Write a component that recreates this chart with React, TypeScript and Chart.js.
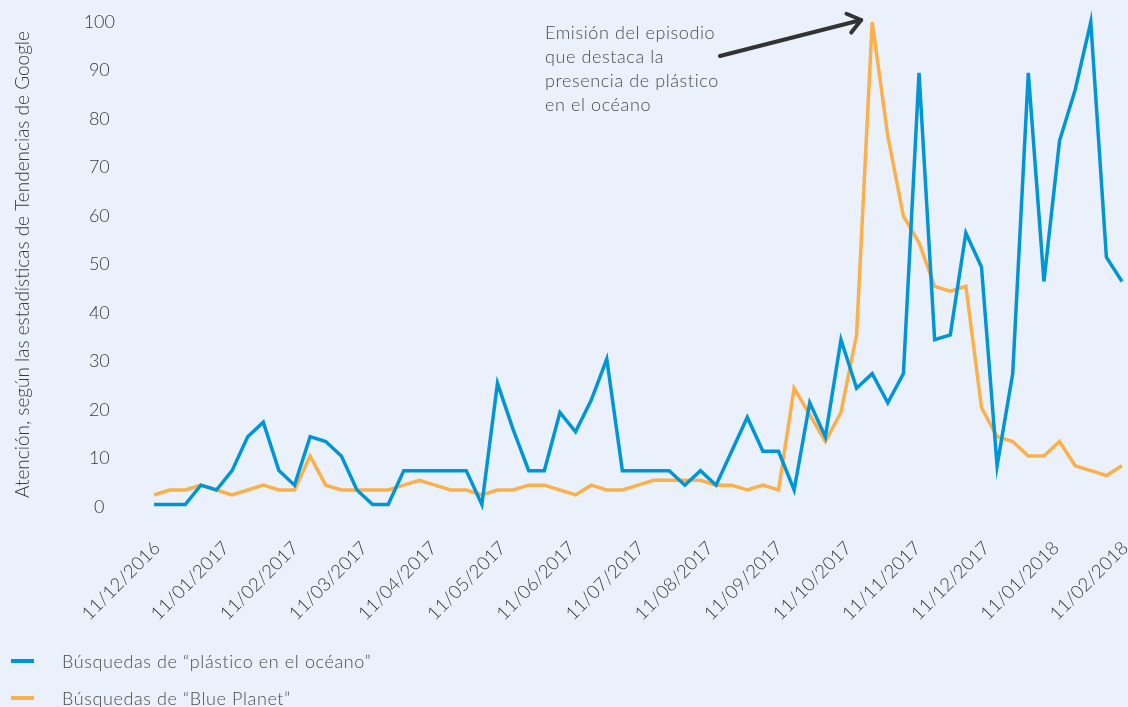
import React, { useEffect, useRef } from "react";
import { Chart, registerables } from "chart.js";

Chart.register(...registerables);

const tickLabels = [
  "11/12/2016", "11/01/2017", "11/02/2017", "11/03/2017", "11/04/2017",
  "11/05/2017", "11/06/2017", "11/07/2017", "11/08/2017", "11/09/2017",
  "11/10/2017", "11/11/2017", "11/12/2017", "11/01/2018", "11/02/2018",
];

const plasticSearches = [
  0.5, 0.5, 0.5, 4.5, 3.5, 7.5, 14.5, 17.5, 7.5, 4.5,
  14.5, 13.5, 10.5, 3.5, 0.5, 0.5, 7.5, 7.5, 7.5, 7.5,
  7.5, 0.5, 25.5, 16, 7.5, 7.5, 19.5, 15.5, 22, 30.5,
  7.5, 7.5, 7.5, 7.5, 4.5, 7.5, 4.5, 11.5, 18.5, 11.5,
  11.5, 3.5, 21.5, 14.5, 34.5, 24.5, 27.5, 21.5, 27.5, 89.5,
  34.5, 35.5, 56.5, 49.5, 8.5, 27.5, 89.5, 46.5, 75.5, 86,
  100, 51.5, 46.5,
];

const bluePlanetSearches = [
  2.5, 3.5, 3.5, 4.5, 3.5, 2.5, 3.5, 4.5, 3.5, 3.5,
  10.5, 4.5, 3.5, 3.5, 3.5, 3.5, 4.5, 5.5, 4.5, 3.5,
  3.5, 2.5, 3.5, 3.5, 4.5, 4.5, 3.5, 2.5, 4.5, 3.5,
  3.5, 4.5, 5.5, 5.5, 5.5, 5.5, 4.5, 4.5, 3.5, 4.5,
  3.5, 24.5, 19, 13.5, 19.5, 35.5, 100, 76.5, 60, 54.5,
  45.5, 44.5, 45.5, 20.5, 14.5, 13.5, 10.5, 10.5, 13.5, 8.5,
  7.5, 6.5, 8.5,
];

const seriesNames = [
  "Búsquedas de “plástico en el océano”",
  "Búsquedas de “Blue Planet”",
];

const yAxisTitle = "Atención, según las estadísticas de Tendencias de Google";

const annotationLines = [
  "Emisión del episodio",
  "que destaca la",
  "presencia de plástico",
  "en el océano",
];

const annotationPeakIndex = 46;

const BLUE = "#0096D6";
const ORANGE = "#FBB04C";
const BG = "#EAF1FB";
const TEXT = "#3a3a3a";
const FONT = 'Lato, "Open Sans", "Noto Sans", sans-serif';

export default function App() {
  const canvasRef = useRef<HTMLCanvasElement | null>(null);

  useEffect(() => {
    const canvas = canvasRef.current;
    if (!canvas) return;

    const overlay = {
      id: "overlay",
      afterDraw(chart: any) {
        const { ctx } = chart;
        const xs = chart.scales.x;
        const ys = chart.scales.y;
        ctx.save();
        try {
          (ctx as any).letterSpacing = "0.6px";
        } catch (e) {}
        // annotation text
        ctx.font = `300 18px ${FONT}`;
        ctx.fillStyle = "#4a4a4a";
        ctx.textAlign = "left";
        ctx.textBaseline = "middle";
        annotationLines.forEach((line, i) => {
          ctx.fillText(line, 545, 33 + i * 24);
        });
        // arrow
        const tipX = xs.getPixelForValue(annotationPeakIndex) - 11;
        const tipY = ys.getPixelForValue(100) - 2;
        const sx = 720;
        const sy = 56;
        ctx.strokeStyle = "#333333";
        ctx.lineWidth = 4;
        ctx.lineCap = "round";
        ctx.lineJoin = "round";
        ctx.beginPath();
        ctx.moveTo(sx, sy);
        ctx.lineTo(tipX, tipY);
        ctx.stroke();
        const ang = Math.atan2(tipY - sy, tipX - sx);
        const len = 16;
        ctx.beginPath();
        ctx.moveTo(tipX + len * Math.cos(ang + Math.PI - 0.65), tipY + len * Math.sin(ang + Math.PI - 0.65));
        ctx.lineTo(tipX, tipY);
        ctx.lineTo(tipX + len * Math.cos(ang + Math.PI + 0.65), tipY + len * Math.sin(ang + Math.PI + 0.65));
        ctx.stroke();
        // legend
        const legendColors = [BLUE, ORANGE];
        const legendY = [661, 698];
        ctx.font = `300 18px ${FONT}`;
        seriesNames.forEach((name, i) => {
          ctx.fillStyle = legendColors[i];
          ctx.fillRect(11, legendY[i] - 2, 23, 4);
          ctx.fillStyle = "#4a4a4a";
          ctx.fillText(name, 62, legendY[i] + 1);
        });
        ctx.restore();
      },
    };

    const chart = new Chart(canvas, {
      type: "line",
      data: {
        datasets: [
          {
            label: seriesNames[0],
            data: plasticSearches.map((y, x) => ({ x, y })),
            borderColor: BLUE,
            backgroundColor: BLUE,
            borderWidth: 3.5,
            pointRadius: 0,
            tension: 0,
            clip: false,
          },
          {
            label: seriesNames[1],
            data: bluePlanetSearches.map((y, x) => ({ x, y })),
            borderColor: ORANGE,
            backgroundColor: ORANGE,
            borderWidth: 3.5,
            pointRadius: 0,
            tension: 0,
            clip: false,
          },
        ],
      },
      options: {
        responsive: false,
        animation: false,
        layout: { padding: { left: 0, right: 6, top: 22, bottom: 0 } },
        plugins: {
          legend: { display: false },
          tooltip: { enabled: false },
        },
        scales: {
          x: {
            type: "linear",
            min: 0,
            max: plasticSearches.length - 1,
            grid: { display: false, drawTicks: false },
            border: { display: false },
            afterBuildTicks: (s: any) => {
              const n = tickLabels.length - 1;
              s.ticks = tickLabels.map((_, i) => ({ value: (i * (plasticSearches.length - 1)) / n }));
            },
            afterFit: (s: any) => {
              s.height = 200;
              s.paddingLeft = 0;
              s.paddingRight = 0;
            },
            ticks: {
              autoSkip: false,
              minRotation: 45,
              maxRotation: 45,
              padding: 30,
              labelOffset: 3,
              color: TEXT,
              font: { family: FONT, size: 18.5, weight: "300" },
              callback: (_v: any, i: number) => tickLabels[i],
            },
          },
          y: {
            min: 0,
            max: 100,
            grid: { display: false, drawTicks: false },
            border: { display: false },
            afterFit: (s: any) => {
              s.width = 154;
              s.paddingTop = 0;
              s.paddingBottom = 0;
            },
            ticks: {
              stepSize: 10,
              padding: 39,
              crossAlign: "center",
              color: TEXT,
              font: { family: FONT, size: 18, weight: "300" },
            },
            title: {
              display: true,
              text: yAxisTitle,
              color: TEXT,
              padding: { top: 11, bottom: 0 },
              font: { family: FONT, size: 19, weight: "300" },
            },
          },
        },
      },
      plugins: [overlay],
    } as any);

    return () => chart.destroy();
  }, []);

  return (
    <div
      style={{
        position: "fixed",
        left: 0,
        top: 0,
        width: 1128,
        height: 707,
        background: BG,
        overflow: "hidden",
      }}
    >
      <canvas ref={canvasRef} width={1128} height={707} style={{ display: "block" }} />
    </div>
  );
}
